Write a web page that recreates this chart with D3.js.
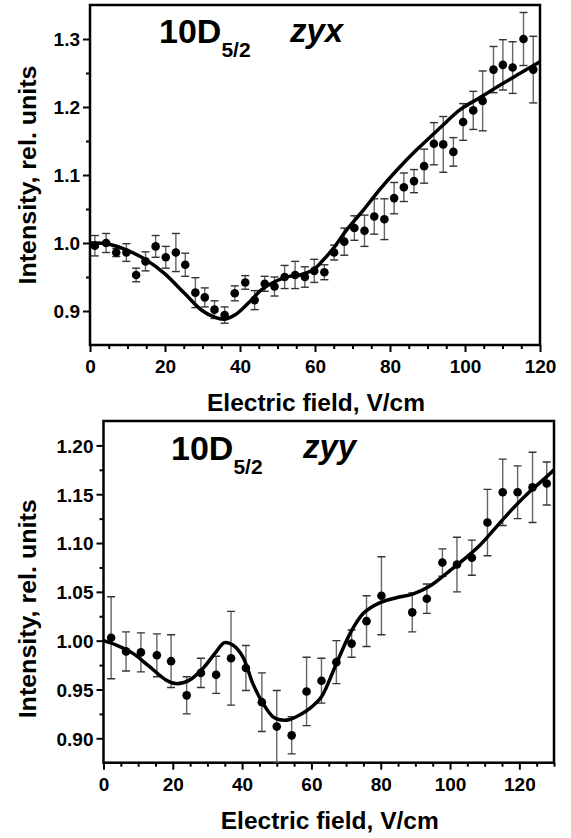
<!DOCTYPE html>
<html>
<head>
<meta charset="utf-8">
<script src="https://cdn.jsdelivr.net/npm/d3@7/dist/d3.min.js"></script>
<style>
  html, body { margin: 0; padding: 0; background: #fff; }
  svg { display: block; }
  text { font-family: "Liberation Sans", Arial, Helvetica, sans-serif; font-weight: bold; fill: #000; }
</style>
</head>
<body>
<svg id="chart" width="571" height="838"></svg>
<script>
// ---------- Top panel (zyx) ----------
const topX = [1.3, 4.3, 7.0, 9.7, 12.3, 14.8, 17.5, 20.2, 22.9, 25.4, 28.1, 30.6, 33.2, 35.9, 38.6, 41.4, 43.9, 46.6, 49.2, 51.9,
              54.7, 57.3, 59.8, 62.5, 65.1, 67.8, 70.5, 73.2, 75.8, 78.5, 81.1, 83.7, 86.4, 89.1, 91.7, 94.2, 96.9, 99.5, 102.2,
              104.7, 107.6, 110.1, 112.7, 115.6, 118.2];
const topY = [0.996, 1.000, 0.986, 0.986, 0.953, 0.973, 0.995, 0.979, 0.986, 0.968, 0.927, 0.920, 0.902, 0.894, 0.926, 0.942,
              0.916, 0.940, 0.936, 0.950, 0.953, 0.950, 0.959, 0.957, 0.986, 1.002, 1.022, 1.018, 1.039, 1.035, 1.066, 1.082,
              1.091, 1.113, 1.146, 1.145, 1.134, 1.178, 1.195, 1.209, 1.255, 1.262, 1.258, 1.300, 1.255];
const topErr = [0.015, 0.014, 0.006, 0.013, 0.010, 0.014, 0.016, 0.016, 0.028, 0.017, 0.022, 0.014, 0.013, 0.012, 0.011, 0.010,
                0.014, 0.011, 0.014, 0.017, 0.020, 0.015, 0.017, 0.011, 0.011, 0.020, 0.018, 0.023, 0.026, 0.030, 0.023, 0.021,
                0.017, 0.025, 0.031, 0.041, 0.021, 0.027, 0.028, 0.044, 0.034, 0.037, 0.038, 0.039, 0.049];
const topFitX = [0, 4.5, 9.7, 15, 19.9, 25.2, 29.7, 33.2, 35.9, 38.6, 42.1, 45.7, 49.2, 52.8, 56, 59.6, 62.2, 64.9, 68.4,
                 72.9, 77.3, 81.8, 87.1, 93.3, 98.7, 104, 109.3, 114.7, 120];
const topFitY = [1.0, 0.999, 0.990, 0.975, 0.955, 0.926, 0.9015, 0.891, 0.888, 0.894, 0.911, 0.931, 0.943, 0.9505, 0.953, 0.961,
                 0.975, 0.992, 1.019, 1.0485, 1.079, 1.107, 1.137, 1.169, 1.196, 1.214, 1.232, 1.2496, 1.2667];
const topXTicks = [0, 20, 40, 60, 80, 100, 120];
const topYTicks = [0.9, 1.0, 1.1, 1.2, 1.3];
const topYMinor = [0.95, 1.05, 1.15, 1.25];

// ---------- Bottom panel (zyy) ----------
const botX = [2.2, 6.5, 10.8, 15.4, 19.5, 24.0, 28.1, 32.5, 36.8, 41.1, 45.7, 50.0, 54.3, 58.6, 62.9, 67.2, 71.6, 75.9, 80.2,
              89.1, 93.3, 97.8, 102.0, 106.3, 110.8, 115.2, 119.5, 123.8, 127.9];
const botY = [1.003, 0.989, 0.988, 0.985, 0.979, 0.944, 0.967, 0.965, 0.982, 0.972, 0.937, 0.912, 0.903, 0.948, 0.959, 0.978,
              0.997, 1.020, 1.046, 1.029, 1.043, 1.080, 1.078, 1.085, 1.121, 1.152, 1.152, 1.157, 1.161];
const botErr = [0.042, 0.020, 0.020, 0.022, 0.027, 0.019, 0.015, 0.019, 0.048, 0.023, 0.030, 0.037, 0.019, 0.035, 0.023, 0.022,
                0.014, 0.026, 0.040, 0.020, 0.015, 0.014, 0.028, 0.018, 0.034, 0.034, 0.027, 0.036, 0.022];
const botFitX = [0, 3.7, 8.5, 13.3, 18.1, 21, 24.8, 28.7, 32.5, 34.9, 37.3, 40.2, 43.1, 46, 48.9, 50.9, 53.5, 56.6, 60, 62.9,
                 66.8, 71.1, 75, 79.8, 84.5, 89.4, 94.2, 99, 103.9, 108.7, 113.5, 118.3, 123.1, 127.9, 130];
const botFitY = [1.0, 0.9955, 0.987, 0.9733, 0.9596, 0.956, 0.9596, 0.9716, 0.9886, 0.998, 0.9955, 0.9835, 0.956, 0.9358, 0.922,
                 0.919, 0.919, 0.9238, 0.932, 0.9425, 0.973, 1.007, 1.028, 1.039, 1.044, 1.048, 1.056, 1.069, 1.083, 1.098,
                 1.117, 1.136, 1.153, 1.168, 1.175];
const botXTicks = [0, 20, 40, 60, 80, 100, 120];
const botYTicks = [0.90, 0.95, 1.00, 1.05, 1.10, 1.15, 1.20];
const botYMinor = [0.925, 0.975, 1.025, 1.075, 1.125, 1.175];

const xLabel = "Electric field, V/cm";
const yLabel = "Intensity, rel. units";

const svg = d3.select("#chart");

function panel(cfg) {
  const x = d3.scaleLinear().domain(cfg.xDomain).range([cfg.left, cfg.right]);
  const y = d3.scaleLinear().domain(cfg.yDomain).range([cfg.bottom, cfg.top]);
  const g = svg.append("g");

  // minor ticks
  const xMinor = d3.range(cfg.xDomain[0], cfg.xDomain[1] + 0.001, 5).filter(v => v % 20 !== 0);
  g.append("g").attr("transform", `translate(0,${cfg.bottom})`)
    .call(d3.axisBottom(x).tickValues(xMinor).tickSize(4).tickFormat(""))
    .call(a => a.select(".domain").remove())
    .call(a => a.selectAll("line").attr("stroke", "#000").attr("stroke-width", 2));
  g.append("g").attr("transform", `translate(${cfg.left},0)`)
    .call(d3.axisLeft(y).tickValues(cfg.yMinor).tickSize(4).tickFormat(""))
    .call(a => a.select(".domain").remove())
    .call(a => a.selectAll("line").attr("stroke", "#000").attr("stroke-width", 2));

  // major ticks
  g.append("g").attr("transform", `translate(0,${cfg.bottom})`)
    .call(d3.axisBottom(x).tickValues(cfg.xTicks).tickSize(7).tickFormat(d3.format("d")))
    .call(a => a.select(".domain").remove())
    .call(a => a.selectAll("line").attr("stroke", "#000").attr("stroke-width", 2))
    .call(a => a.selectAll("text").attr("y", 28).attr("dy", null)
      .style("font-size", "19px").attr("fill", "#000").attr("font-family", null));
  g.append("g").attr("transform", `translate(${cfg.left},0)`)
    .call(d3.axisLeft(y).tickValues(cfg.yTicks).tickSize(7).tickFormat(d3.format(cfg.yFmt)))
    .call(a => a.select(".domain").remove())
    .call(a => a.selectAll("line").attr("stroke", "#000").attr("stroke-width", 2))
    .call(a => a.selectAll("text").attr("x", -10).attr("dy", "0.36em")
      .style("font-size", "19px").attr("fill", "#000").attr("font-family", null));

  // frame
  g.append("rect").attr("x", cfg.left).attr("y", cfg.top)
    .attr("width", cfg.right - cfg.left).attr("height", cfg.bottom - cfg.top)
    .attr("fill", "none").attr("stroke", "#000").attr("stroke-width", 2.5);

  // clip
  const clipId = "clip" + cfg.id;
  svg.append("clipPath").attr("id", clipId).append("rect")
    .attr("x", cfg.left).attr("y", cfg.top).attr("width", cfg.right - cfg.left).attr("height", cfg.bottom - cfg.top);
  const plot = g.append("g").attr("clip-path", `url(#${clipId})`);

  // error bars
  const pts = cfg.xs.map((v, i) => ({x: v, y: cfg.ys[i], e: cfg.es[i]}));
  const eb = plot.append("g");
  eb.selectAll("line.v").data(pts).join("line")
    .attr("x1", d => x(d.x)).attr("x2", d => x(d.x))
    .attr("y1", d => y(d.y - d.e)).attr("y2", d => y(d.y + d.e))
    .attr("stroke", "#666").attr("stroke-width", 1.4);
  eb.selectAll("line.t").data(pts).join("line")
    .attr("x1", d => x(d.x) - 4).attr("x2", d => x(d.x) + 4)
    .attr("y1", d => y(d.y + d.e)).attr("y2", d => y(d.y + d.e))
    .attr("stroke", "#333").attr("stroke-width", 1.4);
  eb.append("g").selectAll("line").data(pts).join("line")
    .attr("x1", d => x(d.x) - 4).attr("x2", d => x(d.x) + 4)
    .attr("y1", d => y(d.y - d.e)).attr("y2", d => y(d.y - d.e))
    .attr("stroke", "#333").attr("stroke-width", 1.4);

  // fit curve
  const fit = cfg.fx.map((v, i) => [v, cfg.fy[i]]);
  plot.append("path").datum(fit)
    .attr("d", d3.line().x(d => x(d[0])).y(d => y(d[1])).curve(d3.curveCatmullRom.alpha(0.5)))
    .attr("fill", "none").attr("stroke", "#000").attr("stroke-width", 3.5);

  // points
  plot.append("g").selectAll("circle").data(pts).join("circle")
    .attr("cx", d => x(d.x)).attr("cy", d => y(d.y)).attr("r", 4.3).attr("fill", "#000");

  // axis titles
  const cx = (cfg.left + cfg.right) / 2;
  g.append("text").attr("x", cx + 1).attr("y", cfg.bottom + 66).attr("text-anchor", "middle")
    .style("font-size", "24px").attr("textLength", 218).attr("lengthAdjust", "spacingAndGlyphs").text(xLabel);
  const cy = (cfg.top + cfg.bottom) / 2 + cfg.yLabOff;
  g.append("text").attr("transform", `translate(36,${cy}) rotate(-90)`).attr("text-anchor", "middle")
    .style("font-size", "24px").attr("textLength", 219).attr("lengthAdjust", "spacingAndGlyphs").text(yLabel);

  // panel title
  const t = g.append("text").attr("x", cfg.titleX).attr("y", cfg.titleY).style("font-size", "34px");
  t.append("tspan").text("10D");
  t.append("tspan").attr("dy", 14).style("font-size", "21px").text("5/2");
  g.append("text").attr("x", cfg.polX).attr("y", cfg.polY).style("font-size", "33px").style("font-style", "italic")
    .text(cfg.pol);
}

panel({
  id: "top", left: 90, right: 540, top: 5, bottom: 345,
  xDomain: [0, 120], yDomain: [0.85, 1.35],
  xTicks: topXTicks, yTicks: topYTicks, yMinor: topYMinor, yFmt: ".1f",
  xs: topX, ys: topY, es: topErr, fx: topFitX, fy: topFitY,
  yLabOff: 0, titleX: 159, titleY: 42.5, polX: 290, polY: 41.5, pol: "zyx"
});
panel({
  id: "bot", left: 103.5, right: 554, top: 421, bottom: 762.7,
  xDomain: [0, 130], yDomain: [0.875, 1.225],
  xTicks: botXTicks, yTicks: botYTicks, yMinor: botYMinor, yFmt: ".2f",
  xs: botX, ys: botY, es: botErr, fx: botFitX, fy: botFitY,
  yLabOff: 17, titleX: 171, titleY: 460, polX: 303, polY: 457.5, pol: "zyy"
});
</script>
</body>
</html>
